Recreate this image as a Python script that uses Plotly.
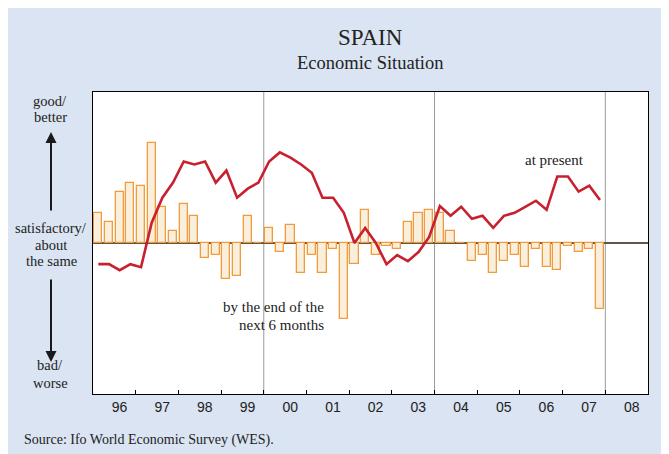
import plotly.graph_objects as go

# Quarterly data 1996Q1 .. 2007Q4
start_year = 1996
bars_future = [20, 14, 34, 40, 38, 66, 24, 8, 26, 18, -10, -8, -24, -22, 18, 0,
               10, -6, 12, -20, -8, -20, -4, -50, -14, 22, -8, -2, -4, 14, 20, 22,
               20, 8, 0, -12, -8, -20, -12, -8, -16, -4, -16, -18, -2, -6, -4, -44]
line_present = [-14, -14, -18, -14, -16, 13.5, 30, 40, 54, 52, 54, 40, 48, 30, 36, 40,
                54, 60, 56.5, 52, 46.5, 30, 30, 20, 0, 10, 0, -14, -8, -12, -6, 4,
                24.5, 18, 24, 16, 18, 10, 18, 20, 24, 28, 22, 44, 44, 34, 38, 28.5]
year_labels = ["96", "97", "98", "99", "00", "01", "02", "03", "04", "05", "06", "07", "08"]
grid_years = [2000, 2004, 2008]

xq = [start_year + (i + 0.5) / 4 for i in range(len(bars_future))]
years = list(range(1996, 1996 + len(year_labels)))

SERIF = "Liberation Serif"
SANS = "Liberation Sans"

# page pixel -> paper coordinates (page has an 8px body offset)
PL, PT, PW, PH = 93, 92, 555, 302


def px(xp):
    return (xp - PL) / PW


def py(yp):
    return 1 - (yp - PT) / PH


fig = go.Figure()
fig.add_trace(go.Bar(
    x=xq, y=bars_future, width=0.19,
    marker=dict(color="#f8efdc", line=dict(color="#f39a3a", width=1.3)),
    showlegend=False, hoverinfo="skip"))
fig.add_trace(go.Scatter(
    x=xq, y=line_present, mode="lines",
    line=dict(color="#c8202f", width=2.6),
    showlegend=False, hoverinfo="skip"))

for gy in grid_years:
    fig.add_shape(type="line", xref="x", yref="paper", x0=gy, x1=gy, y0=0, y1=1,
                  line=dict(color="#9a9a9a", width=1), layer="below")

fig.update_layout(
    width=669, height=454,
    margin=dict(l=85, r=29, t=84, b=68),
    paper_bgcolor="#dae4f2", plot_bgcolor="#ffffff",
    bargap=0,
    xaxis=dict(range=[1996, 2009], showgrid=False, zeroline=False,
               tickmode="array", tickvals=[y + 0.62 for y in years], ticktext=year_labels,
               ticks="", tickfont=dict(family=SANS, size=14, color="#222222"),
               showline=True, linecolor="#000000", linewidth=1, mirror=True,
               minor=dict(tickmode="array", tickvals=[y for y in range(1997, 2009)],
                          ticks="inside", ticklen=4, tickcolor="#000000", tickwidth=1,
                          showgrid=False)),
    yaxis=dict(range=[-100, 100], showgrid=False, showticklabels=False, ticks="",
               zeroline=True, zerolinecolor="#5f5647", zerolinewidth=1.5,
               showline=True, linecolor="#000000", linewidth=1, mirror=True,
               layer="above traces"),
)

ann = [
    dict(text="SPAIN", x=370, y=38, size=23),
    dict(text="Economic Situation", x=370, y=63, size=18.5),
    dict(text="good/", x=50, y=101, size=14.5),
    dict(text="better", x=50, y=117, size=14.5),
    dict(text="satisfactory/", x=51, y=228, size=14.5),
    dict(text="about", x=51, y=244.5, size=14.5),
    dict(text="the same", x=51, y=261, size=14.5),
    dict(text="bad/", x=50, y=365, size=14.5),
    dict(text="worse", x=50, y=383, size=14.5),
    dict(text="at present", x=554, y=160, size=15),
]
for a in ann:
    fig.add_annotation(text=a["text"], xref="paper", yref="paper",
                       x=px(a["x"]), y=py(a["y"]),
                       xanchor="center", yanchor="middle", showarrow=False,
                       font=dict(family=SERIF, size=a["size"], color="#222222"))
for txt, yy in [("by the end of the", 307), ("next 6 months", 325)]:
    fig.add_annotation(text=txt, xref="paper", yref="paper",
                       x=px(326), y=py(yy), xanchor="right", yanchor="middle",
                       showarrow=False, font=dict(family=SERIF, size=15, color="#222222"))
fig.add_annotation(text="Source: Ifo World Economic Survey (WES).", xref="paper", yref="paper",
                   x=px(22), y=py(440), xanchor="left", yanchor="middle",
                   showarrow=False, font=dict(family=SERIF, size=14, color="#222222"))

# vertical arrows on the left
for (y_tail, y_head) in [(212, 132), (278, 362)]:
    fig.add_annotation(xref="paper", yref="paper", axref="pixel", ayref="pixel",
                       x=px(51), y=py(y_head),
                       ax=0, ay=y_tail - y_head,
                       text="", showarrow=True, arrowhead=2, arrowsize=1.1, arrowwidth=2,
                       arrowcolor="#1a1a1a")

fig.write_html("out.html")
